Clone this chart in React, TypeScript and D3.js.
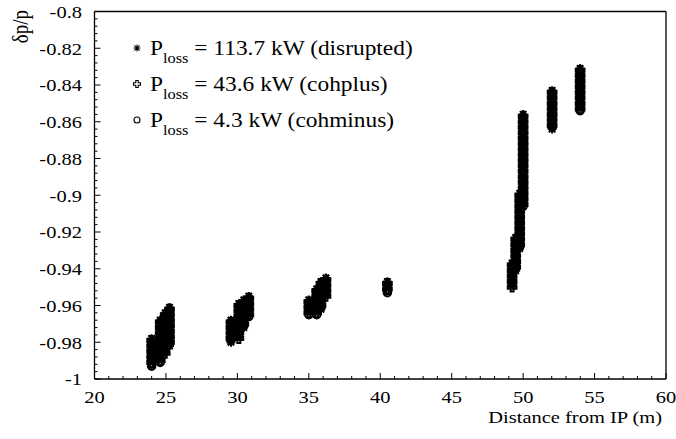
import React from 'react'
import * as d3 from 'd3'

// tick labels
const xTicks = [20, 25, 30, 35, 40, 45, 50, 55, 60]
const xTickLabels = ['20', '25', '30', '35', '40', '45', '50', '55', '60']
const yTicks = [-1, -0.98, -0.96, -0.94, -0.92, -0.9, -0.88, -0.86, -0.84, -0.82, -0.8]
const yTickLabels = ['-1', '-0.98', '-0.96', '-0.94', '-0.92', '-0.9', '-0.88', '-0.86', '-0.84', '-0.82', '-0.8']

// series: [distance from IP (m), dp/p values at that distance]
const disrupted: [number, number[]][] = [
  [24.0, [-0.978, -0.981, -0.984, -0.987, -0.990]],
  [24.6, [-0.968, -0.971, -0.974, -0.977, -0.980, -0.983, -0.986, -0.989]],
  [24.95, [-0.964, -0.967, -0.970, -0.973, -0.976, -0.979, -0.982, -0.985]],
  [25.25, [-0.961, -0.964, -0.967, -0.970, -0.973, -0.976, -0.979, -0.982]],
  [29.55, [-0.968, -0.971, -0.974, -0.977, -0.980]],
  [30.1, [-0.959, -0.962, -0.965, -0.968, -0.971, -0.974, -0.977]],
  [30.45, [-0.957, -0.960, -0.963, -0.966, -0.969, -0.972]],
  [30.8, [-0.955, -0.958, -0.961, -0.964]],
  [35.0, [-0.957, -0.960, -0.963]],
  [35.55, [-0.951, -0.954, -0.957, -0.960, -0.963]],
  [35.85, [-0.947, -0.950, -0.953, -0.956, -0.959, -0.962]],
  [36.2, [-0.945, -0.948, -0.951, -0.954]],
  [40.5, [-0.947, -0.950]],
  [49.23, [-0.937, -0.940, -0.943, -0.946, -0.949]],
  [49.48, [-0.923, -0.926, -0.929, -0.932, -0.935, -0.938, -0.941]],
  [49.76, [-0.899, -0.902, -0.905, -0.908, -0.911, -0.914, -0.917, -0.920, -0.923, -0.926, -0.929]],
  [50.0, [-0.856, -0.859, -0.862, -0.865, -0.868, -0.871, -0.874, -0.877, -0.880, -0.883, -0.886, -0.889, -0.892, -0.895, -0.898, -0.901, -0.904]],
  [52.03, [-0.843, -0.846, -0.849, -0.852, -0.855, -0.858, -0.861, -0.864]],
  [53.99, [-0.831, -0.834, -0.837, -0.840, -0.843, -0.846, -0.849, -0.852]]
]

const cohplus: [number, number[]][] = [
  [24.0, [-0.979, -0.982, -0.985, -0.988, -0.991]],
  [24.6, [-0.969, -0.972, -0.975, -0.978, -0.981, -0.984, -0.987, -0.990]],
  [24.95, [-0.965, -0.968, -0.971, -0.974, -0.977, -0.980, -0.983, -0.986]],
  [25.25, [-0.962, -0.965, -0.968, -0.971, -0.974, -0.977, -0.980]],
  [29.55, [-0.969, -0.972, -0.975, -0.978]],
  [30.1, [-0.960, -0.963, -0.966, -0.969, -0.972, -0.975, -0.978]],
  [30.45, [-0.958, -0.961, -0.964, -0.967, -0.970]],
  [30.8, [-0.956, -0.959, -0.962, -0.965]],
  [35.0, [-0.958, -0.961, -0.964]],
  [35.55, [-0.952, -0.955, -0.958, -0.961, -0.964]],
  [35.85, [-0.948, -0.951, -0.954, -0.957, -0.960]],
  [36.2, [-0.946, -0.949, -0.952, -0.955]],
  [40.5, [-0.948, -0.951]],
  [49.23, [-0.938, -0.941, -0.944, -0.947, -0.950]],
  [49.48, [-0.924, -0.927, -0.930, -0.933, -0.936, -0.939]],
  [49.76, [-0.900, -0.903, -0.906, -0.909, -0.912, -0.915, -0.918, -0.921, -0.924, -0.927]],
  [50.0, [-0.857, -0.860, -0.863, -0.866, -0.869, -0.872, -0.875, -0.878, -0.881, -0.884, -0.887, -0.890, -0.893, -0.896, -0.899, -0.902, -0.905]],
  [52.03, [-0.844, -0.847, -0.850, -0.853, -0.856, -0.859, -0.862]],
  [53.99, [-0.832, -0.835, -0.838, -0.841, -0.844, -0.847, -0.850, -0.853]]
]

const cohminus: [number, number[]][] = [
  [24.0, [-0.980, -0.983, -0.986, -0.989, -0.992, -0.993]],
  [24.6, [-0.970, -0.973, -0.976, -0.979, -0.982, -0.985, -0.988, -0.991]],
  [24.95, [-0.966, -0.969, -0.972, -0.975, -0.978, -0.981, -0.984]],
  [25.25, [-0.963, -0.966, -0.969, -0.972, -0.975, -0.978, -0.981]],
  [29.55, [-0.970, -0.973, -0.976, -0.979]],
  [30.1, [-0.961, -0.964, -0.967, -0.970, -0.973, -0.976]],
  [30.45, [-0.959, -0.962, -0.965, -0.968, -0.971]],
  [30.8, [-0.957, -0.960, -0.963, -0.966]],
  [35.0, [-0.959, -0.962, -0.965]],
  [35.55, [-0.953, -0.956, -0.959, -0.962, -0.965]],
  [35.85, [-0.949, -0.952, -0.955, -0.958, -0.961]],
  [36.2, [-0.947, -0.950, -0.953]],
  [40.5, [-0.949, -0.952, -0.953]],
  [49.23, [-0.939, -0.942, -0.945, -0.948]],
  [49.48, [-0.925, -0.928, -0.931, -0.934, -0.937, -0.940]],
  [49.76, [-0.901, -0.904, -0.907, -0.910, -0.913, -0.916, -0.919, -0.922, -0.925, -0.928]],
  [50.0, [-0.858, -0.861, -0.864, -0.867, -0.870, -0.873, -0.876, -0.879, -0.882, -0.885, -0.888, -0.891, -0.894, -0.897, -0.900, -0.903, -0.906]],
  [52.03, [-0.845, -0.848, -0.851, -0.854, -0.857, -0.860, -0.863]],
  [53.99, [-0.833, -0.836, -0.839, -0.842, -0.845, -0.848, -0.851, -0.854]]
]

const legendItems = [
  { marker: 'star', text: ' = 113.7 kW (disrupted)' },
  { marker: 'cross', text: ' = 43.6 kW (cohplus)' },
  { marker: 'circle', text: ' = 4.3 kW (cohminus)' }
]

const width = 676
const height = 439
const font = '"Liberation Serif", "Times New Roman", serif'
const stretch = 1.17 // the original text is a bit wide

// ROOT-like markers; s scales the size, w is the stroke width
const Marker = ({ type, x, y, s = 1, w = 1.1 }: { type: string, x: number, y: number, s?: number, w?: number }) => {
  const t = `translate(${x},${y}) scale(${s})`
  const sw = w / s
  if (type === 'star') {
    return <path transform={t} d="M-3.5,0H3.5M0,-3.5V3.5M-2.6,-2.6L2.6,2.6M-2.6,2.6L2.6,-2.6"
      fill="none" stroke="#000" strokeWidth={sw} />
  }
  if (type === 'cross') {
    return <path transform={t}
      d="M-1.2,-3.5H1.2V-1.2H3.5V1.2H1.2V3.5H-1.2V1.2H-3.5V-1.2H-1.2Z"
      fill="none" stroke="#000" strokeWidth={sw} />
  }
  return <circle transform={t} r={3} fill="none" stroke="#000" strokeWidth={sw} />
}

const App = () => {
  const x = d3.scaleLinear().domain([20, 60]).range([94.5, 666])
  const y = d3.scaleLinear().domain([-1, -0.8]).range([379, 11.5])

  const xMinor = d3.range(20, 61, 1)
  const yMinor = d3.range(0, 51).map(i => -1 + i * 0.004)

  const series = [
    { data: disrupted, marker: 'star' },
    { data: cohplus, marker: 'cross' },
    { data: cohminus, marker: 'circle' }
  ]

  return (
    <svg width={width} height={height} style={{ position: 'absolute', left: 0, top: 0, background: '#fff' }}
      fontFamily={font}>
      <rect width={width} height={height} fill="#fff" />

      {/* points, drawn heavier than the legend since thousands overlap in the original */}
      {series.map(s => (
        <g key={s.marker}>
          {s.data.map(([d, vals]) => vals.map((v, i) => (
            <Marker key={d + '-' + i} type={s.marker} x={x(d)} y={y(v)} s={1.25} w={2} />
          )))}
        </g>
      ))}

      {/* frame */}
      <g stroke="#000" fill="none">
        <line x1={x(20)} x2={x(60)} y1={y(-1)} y2={y(-1)} strokeWidth={1.3} />
        <line x1={x(20)} x2={x(20)} y1={y(-1)} y2={y(-0.8)} strokeWidth={1.3} />
        <line x1={x(20)} x2={x(60)} y1={y(-0.8)} y2={y(-0.8)} strokeWidth={1.5} />
        <line x1={x(60)} x2={x(60)} y1={y(-1)} y2={y(-0.8)} strokeWidth={1.3} />
        {xMinor.map(v => (
          <line key={'xm' + v} x1={x(v)} x2={x(v)} y1={y(-1)} y2={y(-1) - (v % 5 === 0 ? 6 : 3)} strokeWidth={1} />
        ))}
        {yMinor.map((v, i) => (
          <line key={'ym' + i} x1={x(20)} x2={x(20) + (i % 5 === 0 ? 6 : 3)} y1={y(v)} y2={y(v)} strokeWidth={1} />
        ))}
      </g>

      {/* tick labels */}
      <g fontSize={17.5} fill="#000">
        {xTicks.map((v, i) => (
          <text key={'xl' + v} transform={`translate(${x(v)},${402.5}) scale(${stretch},1)`} textAnchor="middle">
            {xTickLabels[i]}
          </text>
        ))}
        {yTicks.map((v, i) => (
          <text key={'yl' + v} transform={`translate(${82},${y(v) + 6.3}) scale(${stretch},1)`} textAnchor="end">
            {yTickLabels[i]}
          </text>
        ))}
      </g>

      {/* axis titles */}
      <text transform={`translate(662,422.5) scale(${stretch},1)`} textAnchor="end" fontSize={17.5}>
        Distance from IP (m)
      </text>
      <text transform={`translate(28,10) rotate(-90) scale(1,${stretch})`} textAnchor="end" fontSize={19}>
        δp/p
      </text>

      {/* legend */}
      {legendItems.map((item, i) => {
        const ly = 48 + i * 36
        return (
          <g key={item.marker}>
            <Marker type={item.marker} x={137} y={ly} />
            <text transform={`translate(150,${ly + 7}) scale(${stretch},1)`} fontSize={20}>
              P<tspan fontSize={14} dy={8}>loss</tspan><tspan dy={-8}>{item.text}</tspan>
            </text>
          </g>
        )
      })}
    </svg>
  )
}

export default App
